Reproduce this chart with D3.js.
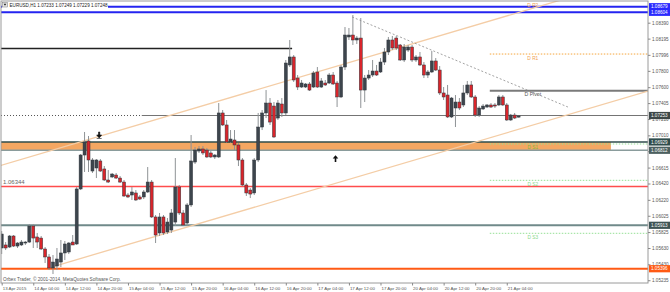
<!DOCTYPE html>
<html>
<head>
<meta charset="utf-8">
<script src="https://cdn.jsdelivr.net/npm/d3@7"></script>
<style>
html, body { margin: 0; padding: 0; background: #fff; }
svg { display: block; font-family: "Liberation Sans", Arial, sans-serif; }
</style>
</head>
<body>
<div class="canva"></div>
<script>
// EURUSD H1, 13 Apr 20:00 .. 21 Apr 07:00 (one value per bar)
const opens = [1.05630,1.05667,1.05642,1.05777,1.05654,1.05667,1.05691,1.05703,1.05899,1.05765,
  1.05752,1.05618,1.05520,1.05385,1.05409,1.05458,1.05569,1.05581,1.05703,1.05679,
  1.06353,1.06769,1.06941,1.06573,1.06610,1.06696,1.06598,1.06463,1.06500,1.06524,
  1.06487,1.06438,1.06279,1.06279,1.06304,1.06255,1.06255,1.06316,1.06438,1.06010,
  1.05814,1.06010,1.05826,1.05850,1.05948,1.06377,1.06059,1.05936,1.06157,1.06683,
  1.06818,1.06843,1.06830,1.06794,1.06745,1.06745,1.07284,1.07137,1.06928,1.06953,
  1.06892,1.06708,1.06402,1.06340,1.06304,1.06708,1.07112,1.07284,1.07406,1.07369,
  1.07222,1.07394,1.07284,1.07872,1.07970,1.07712,1.07602,1.07602,1.07639,1.07602,
  1.07786,1.07602,1.07651,1.07651,1.07749,1.07651,1.07480,1.07847,1.08215,1.08239,
  1.08178,1.08202,1.07565,1.07712,1.07749,1.07798,1.07786,1.07908,1.08031,1.08178,
  1.08202,1.08117,1.07933,1.08055,1.08092,1.07933,1.07970,1.07872,1.07749,1.07786,
  1.07921,1.07810,1.07529,1.07504,1.07235,1.07345,1.07418,1.07382,1.07529,1.07627,
  1.07480,1.07259,1.07333,1.07357,1.07382,1.07382,1.07382,1.07480,1.07382,1.07198,
  1.07259,1.07233];
const highs = [1.05838,1.05703,1.05789,1.05789,1.05703,1.05728,1.05716,1.05924,1.05924,1.05814,
  1.05777,1.05642,1.05556,1.05544,1.05630,1.05728,1.05716,1.05703,1.05789,1.06377,
  1.06781,1.07051,1.07002,1.06732,1.06720,1.06720,1.06634,1.06585,1.06549,1.06549,
  1.06512,1.06463,1.06304,1.06377,1.06340,1.06279,1.06340,1.06622,1.06463,1.06034,
  1.06059,1.06034,1.05997,1.06108,1.06732,1.06402,1.06095,1.06181,1.07014,1.06867,
  1.06879,1.06879,1.06855,1.06818,1.06781,1.07406,1.07320,1.07198,1.07075,1.07075,
  1.06916,1.06732,1.06426,1.06365,1.06732,1.07284,1.07320,1.07565,1.07467,1.07418,
  1.07443,1.07467,1.07933,1.08178,1.07994,1.07749,1.07688,1.07651,1.07663,1.07798,
  1.07847,1.07712,1.07688,1.07774,1.07786,1.07676,1.07872,1.08337,1.08325,1.08484,
  1.08227,1.08447,1.07749,1.07810,1.07933,1.07872,1.07957,1.08080,1.08215,1.08227,
  1.08227,1.08129,1.08129,1.08117,1.08117,1.07994,1.08031,1.07908,1.07810,1.08043,
  1.07957,1.07859,1.07602,1.07627,1.07480,1.07504,1.07467,1.07627,1.07676,1.07676,
  1.07504,1.07369,1.07394,1.07394,1.07406,1.07406,1.07504,1.07504,1.07406,1.07272,
  1.07284,1.07249];
const lows = [1.05556,1.05605,1.05630,1.05642,1.05630,1.05654,1.05667,1.05691,1.05630,1.05630,
  1.05605,1.05446,1.05360,1.05311,1.05360,1.05397,1.05483,1.05556,1.05667,1.05667,
  1.06340,1.06561,1.06561,1.06549,1.06487,1.06561,1.06451,1.06426,1.06487,1.06475,
  1.06426,1.06255,1.06242,1.06218,1.06206,1.06218,1.06230,1.06304,1.05997,1.05691,
  1.05777,1.05789,1.05801,1.05814,1.05899,1.06034,1.05899,1.05899,1.06132,1.06659,
  1.06794,1.06769,1.06732,1.06732,1.06720,1.06732,1.07124,1.06916,1.06916,1.06830,
  1.06634,1.06389,1.06267,1.06242,1.06279,1.06683,1.07075,1.07222,1.07137,1.06977,
  1.07198,1.07235,1.07259,1.07847,1.07663,1.07565,1.07590,1.07590,1.07553,1.07590,
  1.07590,1.07590,1.07614,1.07639,1.07627,1.07357,1.07467,1.07810,1.08178,1.08117,
  1.08129,1.07345,1.07418,1.07688,1.07725,1.07737,1.07774,1.07872,1.07994,1.08055,
  1.08055,1.07921,1.07908,1.08031,1.07908,1.07908,1.07859,1.07712,1.07712,1.07774,
  1.07798,1.07504,1.07443,1.07222,1.07222,1.07112,1.07320,1.07357,1.07504,1.07467,
  1.07235,1.07235,1.07320,1.07345,1.07345,1.07345,1.07369,1.07369,1.07186,1.07186,
  1.07210,1.07229];
const closes = [1.05801,1.05630,1.05777,1.05654,1.05691,1.05703,1.05703,1.05899,1.05752,1.05703,
  1.05618,1.05520,1.05385,1.05458,1.05495,1.05569,1.05679,1.05691,1.05667,1.06353,
  1.06769,1.06928,1.06708,1.06708,1.06708,1.06573,1.06463,1.06438,1.06536,1.06487,
  1.06438,1.06267,1.06255,1.06316,1.06218,1.06230,1.06316,1.06438,1.06010,1.05789,
  1.06010,1.05814,1.05948,1.06059,1.06377,1.06059,1.05912,1.06157,1.06696,1.06830,
  1.06843,1.06794,1.06745,1.06745,1.06769,1.07284,1.07137,1.06928,1.06965,1.06892,
  1.06708,1.06402,1.06304,1.06291,1.06708,1.07112,1.07284,1.07406,1.07173,1.06990,
  1.07406,1.07284,1.07896,1.07970,1.07688,1.07602,1.07651,1.07639,1.07565,1.07774,
  1.07602,1.07676,1.07627,1.07749,1.07639,1.07480,1.07847,1.08239,1.08239,1.08178,
  1.08202,1.07565,1.07712,1.07749,1.07798,1.07749,1.07908,1.08031,1.08178,1.08080,
  1.08080,1.07933,1.08092,1.08092,1.07933,1.07970,1.07872,1.07749,1.07786,1.07921,
  1.07810,1.07529,1.07480,1.07235,1.07467,1.07418,1.07345,1.07529,1.07627,1.07480,
  1.07259,1.07345,1.07369,1.07382,1.07357,1.07369,1.07480,1.07382,1.07198,1.07259,
  1.07222,1.07248];

const timeTickBars = [0, 8, 16, 24, 32, 40, 48, 56, 64, 72, 80, 88, 96, 104, 112, 120, 128];
const timeLabels = ["13 Apr 2015", "14 Apr 04:00", "14 Apr 12:00", "14 Apr 20:00", "15 Apr 04:00",
  "15 Apr 12:00", "15 Apr 20:00", "16 Apr 04:00", "16 Apr 12:00", "16 Apr 20:00", "17 Apr 04:00",
  "17 Apr 12:00", "17 Apr 20:00", "20 Apr 04:00", "20 Apr 12:00", "20 Apr 20:00", "21 Apr 04:00"];
const priceTicks = [1.08390, 1.08195, 1.07996, 1.07800, 1.07600, 1.07405, 1.07210, 1.07010, 1.06815,
  1.06615, 1.06420, 1.06220, 1.06025, 1.05825, 1.05630, 1.05430, 1.05235];

// horizontal levels (price, axis label)
const levelPrices = [1.08586, 1.08517, 1.07253, 1.06929, 1.06827, 1.06383, 1.05908, 1.05376];
const levelLabels = ["1.08679", "1.08604", "1.07253", "1.06929", "1.06812", "", "1.05913", "1.05396"];
const prevHigh = 1.08074;
const leftNote = "1.06344";

// daily pivots
const pivotNames = ["D R2", "D R1", "D Pivot", "D S1", "D S2", "D S3"];
const pivotPrices = [1.08720, 1.08006, 1.07557, 1.06904, 1.06459, 1.05810];

// trend lines: [bar, price] pairs
const channelUpper = [[-0.5, 1.06638], [141.7, 1.08668]];
const channelLower = [[13.5, 1.05409], [163.8, 1.07552]];
const downTrend = [[88.8, 1.08460], [143.5, 1.07357]];
const arrowDown = [24.7, 1.07002];
const arrowUp = [84.6, 1.06732];

const W = 670, H = 292;
const plot = {left: 1, right: 648, top: 1, bottom: 283};

const svg = d3.select(".canva").append("svg")
  .attr("width", W)
  .attr("height", H);

svg.append("rect").attr("width", W).attr("height", H).attr("fill", "#fff");

const x = d3.scaleLinear().domain([0, 131]).range([1.7, 518.6]);
const y = d3.scaleLinear().domain([1.05235, 1.08668]).range([280.24, 0]);

svg.append("clipPath").attr("id", "clip")
  .append("rect")
  .attr("x", plot.left).attr("y", plot.top)
  .attr("width", plot.right - plot.left).attr("height", plot.bottom - plot.top);

const g = svg.append("g").attr("clip-path", "url(#clip)");

// supply zone
g.append("rect")
  .attr("x", plot.left)
  .attr("width", x(154.4) - plot.left)
  .attr("y", y(levelPrices[3]))
  .attr("height", y(levelPrices[4]) - y(levelPrices[3]))
  .attr("fill", "#f4a762");

const levelColors = ["#2424f0", "#2424f0", "#747474", "#2f4c4c", "#8a9c9c", "#ff4d4d", "#708a8a", "#ff5a14"];
const levelWidths = [2, 2, 1, 1.5, 1.5, 1.5, 2, 2];
const levelFrom = [-1, -1, 35.5, -1, -1, -1, -1, -1];

levelPrices.forEach((p, i) => {
  g.append("line")
    .attr("x1", x(levelFrom[i])).attr("x2", plot.right)
    .attr("y1", y(p)).attr("y2", y(p))
    .attr("stroke", levelColors[i])
    .attr("stroke-width", levelWidths[i]);
});
// dotted start of the current level line
g.append("line")
  .attr("x1", plot.left).attr("x2", x(35.5))
  .attr("y1", y(levelPrices[2])).attr("y2", y(levelPrices[2]))
  .attr("stroke", "#555").attr("stroke-dasharray", "1,2");

g.append("line")
  .attr("x1", plot.left).attr("x2", x(73.6))
  .attr("y1", y(prevHigh)).attr("y2", y(prevHigh))
  .attr("stroke", "#222").attr("stroke-width", 1.5);

// pivots
const pivotColors = ["#f5a53c", "#f5a53c", "#7a7a7a", "#95e095", "#95e095", "#95e095"];
const pivotText = ["#f0a050", "#f0a050", "#555", "#80b840", "#8ad88a", "#8ad88a"];
pivotPrices.forEach((p, i) => {
  g.append("line")
    .attr("x1", x(123.7)).attr("x2", plot.right)
    .attr("y1", y(p)).attr("y2", y(p))
    .attr("stroke", pivotColors[i])
    .attr("stroke-width", i === 2 ? 2 : 1)
    .attr("stroke-dasharray", i === 2 ? null : "1.5,1.5");
  g.append("text")
    .attr("x", x(134.6))
    .attr("y", Math.max(y(p) + 5.5, 7))
    .attr("text-anchor", "middle")
    .attr("font-size", i === 2 ? 5.2 : 4.8)
    .attr("fill", pivotText[i])
    .text(pivotNames[i]);
});

g.append("text")
  .attr("x", 3).attr("y", y(levelPrices[5]) - 2.5)
  .attr("font-size", 6).attr("fill", "#666")
  .text(leftNote);

// trend lines
const tl = d3.line().x(d => x(d[0])).y(d => y(d[1]));
g.append("path").attr("d", tl(channelUpper)).attr("stroke", "#f4cda6").attr("stroke-width", 1.3).attr("fill", "none");
g.append("path").attr("d", tl(channelLower)).attr("stroke", "#f4cda6").attr("stroke-width", 1.3).attr("fill", "none");
g.append("path").attr("d", tl(downTrend)).attr("stroke", "#8c8c8c").attr("stroke-width", 0.8)
  .attr("stroke-dasharray", "2,2").attr("fill", "none");

// candles
const bars = g.selectAll(".bar").data(d3.range(opens.length)).join("g").attr("class", "bar");
bars.append("line")
  .attr("x1", i => x(i)).attr("x2", i => x(i))
  .attr("y1", i => y(highs[i])).attr("y2", i => y(lows[i]))
  .attr("stroke", "#8f9396").attr("stroke-width", 1);
bars.append("rect")
  .attr("x", i => x(i) - 1.5)
  .attr("width", 3)
  .attr("y", i => y(Math.max(opens[i], closes[i])))
  .attr("height", i => Math.max(0.8, Math.abs(y(opens[i]) - y(closes[i]))))
  .attr("fill", i => closes[i] >= opens[i] ? "#3d454d" : "#d9252b")
  .attr("stroke", "#30363c")
  .attr("stroke-width", 0.5);

// arrows
g.append("path")
  .attr("d", `M${x(arrowDown[0]) - 2.5},${y(arrowDown[1]) - 1} h5 l-2.5,3 z M${x(arrowDown[0]) - 0.6},${y(arrowDown[1]) - 4} h1.2 v3 h-1.2 z M${x(arrowDown[0]) - 2.5},${y(arrowDown[1]) + 2.5} h5`)
  .attr("fill", "#111").attr("stroke", "#111").attr("stroke-width", 0.6);
g.append("path")
  .attr("d", `M${x(arrowUp[0]) - 2.8},${y(arrowUp[1]) + 0.5} h5.6 l-2.8,-3.2 z M${x(arrowUp[0]) - 0.8},${y(arrowUp[1]) + 0.5} h1.6 v3.5 h-1.6 z`)
  .attr("fill", "#111");

// frame
svg.append("rect")
  .attr("x", plot.left).attr("y", plot.top)
  .attr("width", plot.right - plot.left).attr("height", plot.bottom - plot.top)
  .attr("fill", "none").attr("stroke", "#9a9a9a").attr("stroke-width", 1);

// axes
const yAxis = d3.axisRight(y).tickValues(priceTicks).tickSize(2.5).tickPadding(1.5)
  .tickFormat(d3.format(".5f"));
const ya = svg.append("g").attr("transform", `translate(${plot.right},0)`).call(yAxis);
ya.select(".domain").remove();
ya.selectAll("line").attr("stroke", "#888");
ya.selectAll("text").attr("font-size", 4.6).attr("fill", "#555").attr("font-family", "Liberation Sans, Arial, sans-serif");

const xAxis = d3.axisBottom(x).tickValues(timeTickBars).tickSize(2.5).tickPadding(1)
  .tickFormat((d, i) => timeLabels[i]);
const xa = svg.append("g").attr("transform", `translate(0,${plot.bottom})`).call(xAxis);
xa.select(".domain").remove();
xa.selectAll("line").attr("stroke", "#888");
xa.selectAll("text").attr("font-size", 4.4).attr("fill", "#555").attr("text-anchor", "start")
  .attr("dx", 0.5).attr("font-family", "Liberation Sans, Arial, sans-serif");

// price boxes on the axis
const boxColors = ["#2a2aff", "#2a2aff", "#3e4848", "#2f4c4c", "#4d6060", null, "#3e5454", "#ff5a14"];
const boxY = [6.7, 12.3, null, null, null, null, null, null];
levelPrices.forEach((p, i) => {
  if (!levelLabels[i]) return;
  const cy = boxY[i] !== null ? boxY[i] : y(p);
  svg.append("rect")
    .attr("x", plot.right + 1).attr("y", cy - 3.6)
    .attr("width", 21).attr("height", 7.2)
    .attr("fill", boxColors[i]);
  svg.append("text")
    .attr("x", plot.right + 3).attr("y", cy + 1.7)
    .attr("font-size", 4.6).attr("fill", "#fff")
    .text(levelLabels[i]);
});

// title and copyright
svg.append("rect").attr("x", 2).attr("y", 2).attr("width", 106).attr("height", 7).attr("fill", "#fff");
svg.append("rect").attr("x", 2.5).attr("y", 2.5).attr("width", 5).attr("height", 4.5)
  .attr("fill", "#e8e8e8").attr("stroke", "#777").attr("stroke-width", 0.5);
svg.append("path").attr("d", "M3.6,3.8 h2.8 l-1.4,2 z").attr("fill", "#222");
svg.append("text").attr("x", 9.5).attr("y", 7.2).attr("font-size", 4.6).attr("fill", "#222")
  .text("EURUSD,H1  1.07233 1.07249 1.07229 1.07248");
svg.append("text").attr("x", 3).attr("y", 280.6).attr("font-size", 4.7).attr("fill", "#555")
  .text("Orbex Trader, \u00a9 2001-2014, MetaQuotes Software Corp.");
</script>
</body>
</html>
